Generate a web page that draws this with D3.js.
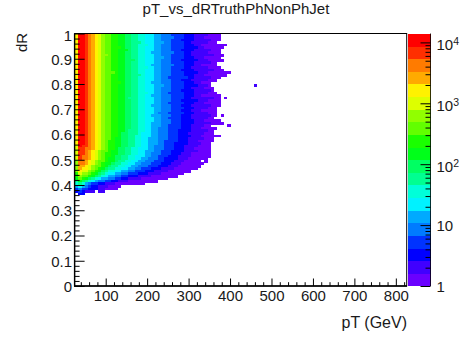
<!DOCTYPE html>
<html><head><meta charset="utf-8">
<script src="https://cdn.jsdelivr.net/npm/d3@7"></script>
<style>html,body{margin:0;padding:0;background:#fff}svg{display:block}text{font-family:"Liberation Sans",Arial,sans-serif;fill:#1a1a1a}</style>
</head><body><div id="c"></div>
<script>
const titleText = "pT_vs_dRTruthPhNonPhJet", xLabel = "pT (GeV)", yLabel = "dR";
const pTDomain = [25, 825], dRDomain = [0, 1], binWidth = 8, dRWidth = 0.01;
const pTMajor = [100,200,300,400,500,600,700,800];
const dRMajor = [0,0.1,0.2,0.3,0.4,0.5,0.6,0.7,0.8,0.9,1];
const countMax = 14000;
const zDecades = [1,10,100,1000,10000];
// palette hue per contour level, lowest count first
const levelHues = [265,255,240,228,211,200,183,171,154,143,126,114,97,86,68,57,40,29,11,0];
// for each dR row (first entry = row index): last bin (exclusive) reached by level 0,1,2... going inward
const rowEnds = [
[99,44,40,36,33,29,26,24,21,19,17,15,13,11,9,8,7,6,5,4,3],
[98,44,39,36,33,30,26,24,21,19,17,15,13,11,9,8,7,6,5,4,3],
[97,44,41,36,32,29,26,24,21,19,17,15,13,11,9,8,7,6,5,4,3],
[96,43,40,35,33,29,27,24,21,20,17,15,13,11,9,8,7,6,5,4,3],
[95,46,38,36,33,29,26,24,22,19,17,15,13,11,9,8,7,6,5,4,3],
[94,45,39,37,33,29,26,24,21,19,17,15,14,11,9,8,7,6,5,4,3],
[93,44,41,36,32,29,26,24,21,19,17,16,13,11,9,8,7,6,5,4,3],
[92,44,40,35,33,30,26,23,21,19,17,15,13,11,9,8,7,6,5,4,3],
[91,45,42,35,33,29,26,24,21,19,17,15,13,11,10,8,7,6,5,4,3],
[90,44,39,36,33,29,27,24,21,19,17,15,13,11,9,8,7,6,5,4,3],
[89,45,40,37,32,29,26,24,21,19,18,15,13,11,9,8,7,6,5,4,3],
[88,43,41,36,33,29,26,24,21,19,17,15,13,11,9,8,7,6,5,4,3],
[87,43,38,36,33,30,26,23,21,19,17,15,13,11,9,8,7,6,5,4,3],
[86,44,40,35,33,29,26,24,22,19,17,15,13,11,9,8,7,6,5,4,3],
[85,45,42,36,32,29,26,24,21,19,17,15,13,11,9,8,7,6,5,4,3],
[84,47,40,37,33,29,26,24,21,19,17,15,13,12,9,8,7,6,5,4,3],
[83,46,39,36,33,29,26,24,21,20,17,15,13,11,9,8,7,6,5,4,3],
[82,44,41,36,34,28,26,24,21,19,17,15,13,11,9,8,7,6,5,4,3],
[81,43,40,35,32,29,26,24,21,19,17,15,13,11,9,8,7,6,5,4,3],
[80,42,38,36,33,29,26,23,21,19,17,15,14,11,9,8,7,6,5,4,3],
[79,42,40,37,33,29,27,24,21,19,17,15,13,11,9,8,7,6,5,4,3],
[78,42,39,35,33,29,26,24,21,19,17,15,13,11,9,8,7,6,5,4,3],
[77,42,41,36,32,29,26,24,21,19,17,15,13,11,9,8,7,6,5,4,3],
[76,43,40,36,33,28,26,24,22,19,17,15,13,11,9,8,7,6,5,4,3],
[75,44,38,36,33,29,26,23,21,19,17,15,13,11,9,8,7,6,5,4,3],
[74,44,42,35,33,29,26,24,21,19,16,15,13,11,9,8,7,6,5,4,3],
[73,44,40,37,32,29,26,24,21,19,17,15,13,11,9,8,7,6,5,4,3],
[72,44,39,36,33,28,26,24,21,19,17,15,13,11,9,8,7,6,5,4,3],
[71,44,41,35,32,29,26,23,21,19,17,15,13,11,9,8,7,6,5,4,3],
[70,43,40,36,33,29,26,24,21,19,17,15,13,11,9,8,7,6,5,4,3],
[69,43,38,35,32,29,26,24,21,19,17,15,13,11,9,8,7,6,5,4,3],
[68,43,40,36,33,28,25,24,21,19,17,15,13,11,9,8,7,6,5,4,3],
[67,43,41,35,32,29,26,23,21,19,17,15,13,11,9,8,7,6,5,4,3],
[66,42,40,35,32,28,26,24,21,19,17,15,13,11,9,8,7,6,5,4,3],
[65,44,39,36,32,29,26,24,21,19,17,15,13,11,9,8,7,6,5,4,3],
[64,45,41,36,32,29,26,23,21,19,17,15,13,11,9,8,7,6,5,4,3],
[63,43,39,35,32,28,26,23,21,19,17,15,13,11,9,8,7,6,5,4,3],
[62,43,38,35,32,28,25,23,21,19,17,15,13,11,9,8,7,6,5,4,3],
[61,42,40,35,31,28,25,23,21,19,16,15,13,11,9,8,7,6,5,4,3],
[60,42,39,34,31,28,25,23,20,19,16,14,13,11,9,8,7,6,5,4,3],
[59,44,38,35,31,28,25,23,20,18,16,14,13,11,9,8,7,6,5,4,3],
[58,42,39,34,31,28,25,22,20,18,16,14,12,11,9,8,7,6,5,4,3],
[57,42,37,34,31,27,25,22,20,18,16,14,12,10,9,8,7,6,5,4,3],
[56,41,38,34,30,27,25,22,20,18,16,14,12,10,9,8,7,6,5,4,3],
[55,42,37,33,30,27,24,22,20,18,16,14,12,10,9,8,7,6,5,4,2],
[54,41,36,33,30,27,24,22,19,17,15,13,12,10,9,8,7,6,5,3],
[53,41,37,33,29,26,24,21,19,17,15,13,11,10,8,7,6,5,4,3],
[52,41,35,32,29,26,23,21,19,17,15,13,11,9,8,7,6,5,4,3],
[51,41,35,31,28,25,23,21,18,16,14,12,11,9,8,7,6,5,4,2],
[50,40,34,31,27,25,22,20,18,16,14,12,10,9,8,7,6,5,4,2],
[49,40,33,30,27,24,21,19,17,15,13,12,10,9,7,6,5,4,3],
[48,39,32,29,26,23,20,18,16,14,12,11,9,8,7,6,5,4,3],
[47,38,31,28,25,22,19,17,15,13,11,10,9,8,6,5,4,3],
[46,37,30,26,23,20,18,16,14,12,10,9,8,7,6,5,4,2],
[45,35,28,24,21,18,16,14,12,10,9,8,7,6,5,4,2],
[44,33,26,22,19,16,14,12,10,9,8,7,6,5,4,2],
[43,31,23,19,16,14,12,10,9,8,7,6,5,4,2],
[42,28,20,16,14,12,10,8,7,6,5,4,3,2],
[41,25,16,13,11,9,7,6,5,4,3,2],
[40,21,12,9,7,5,4,3,3,2],
[39,14,10,7,5,4,3,2],
[38,13,9,7,4,2],
[37,6,6,3,2],
[36,3,3,3]
];
// level of the first pT bin in each row range: [lowest row, level]
const firstBinLevels = [[56,15],[50,14],[45,13],[43,11],[42,10],[41,8],[40,7],[39,5],[38,3],[37,2]];
// lone filled bins: [bin, row, level]
const strayBins = [[54,79,1],[45,74,0],[44,67,0],[46,63,0],[7,37,1],[8,37,1]];
// empty bins inside the edge: [bin, row]
const holeBins = [[41,80],[41,79],[42,63],[41,63],[41,55],[38,49],[39,47]];

const W=463,H=338;
const x=d3.scaleLinear().domain(pTDomain).range([74.6,406.2]);
const y=d3.scaleLinear().domain(dRDomain).range([286,33.5]);
const svg=d3.select("#c").append("svg").attr("width",W).attr("height",H);
const color=l=>d3.hsl(levelHues[l],1,.5).formatRgb();
const holes=new Set(holeBins.map(d=>d[0]+"_"+d[1]));
const cells=[];
rowEnds.forEach(r=>{
  const row=r[0], ends=r.slice(1), fb=firstBinLevels.find(d=>row>=d[0]);
  // a row's inner levels may stick out past an outer one; the inner level wins
  for(let l=0;l<ends.length;l++){
    for(let b=1;b<ends[l];b++){
      const inner=ends.findIndex((e,i)=>i>l&&e>b);
      if(inner!==-1) continue;
      if(!holes.has(b+"_"+row)) cells.push({b,row,l});
    }
  }
  if(fb) cells.push({b:0,row,l:fb[1]});
});
strayBins.forEach(d=>cells.push({b:d[0],row:d[1],l:d[2]}));

// frame
svg.append("rect").attr("x",x.range()[0]).attr("y",33.5).attr("width",x.range()[1]-x.range()[0]+.5).attr("height",252.5)
  .attr("fill","none").attr("stroke","#000").attr("stroke-width",1);

svg.append("g").attr("shape-rendering","crispEdges").selectAll("rect").data(cells).join("rect")
  .attr("x",d=>x(pTDomain[0]+d.b*binWidth))
  .attr("width",d=>x(binWidth)-x(0)+.3)
  .attr("y",d=>y((d.row+1)*dRWidth))
  .attr("height",d=>y(0)-y(dRWidth)+.3)
  .attr("fill",d=>color(d.l));

// axes
const axG=svg.append("g");
const minorX=d3.range(40,821,20).filter(v=>!pTMajor.includes(v));
const minorY=d3.range(0,51).map(i=>i/50).filter(v=>!dRMajor.some(m=>Math.abs(m-v)<1e-6));
const xAxis=d3.axisBottom(x).tickValues(pTMajor).tickSize(-7.5).tickPadding(4).tickFormat(d3.format("d"));
const gx=axG.append("g").attr("transform","translate(0,286)").call(xAxis);
gx.select(".domain").remove();
gx.selectAll("line").attr("stroke","#000");
gx.selectAll("text").attr("font-size",15).attr("dy",0).attr("y",14.5).style("fill","#1a1a1a").attr("font-family","Liberation Sans");
const gxm=axG.append("g").attr("transform","translate(0,286)").call(d3.axisBottom(x).tickValues(minorX).tickSize(-3.8).tickFormat(""));
gxm.select(".domain").remove(); gxm.selectAll("line").attr("stroke","#000");

const yAxis=d3.axisLeft(y).tickValues(dRMajor).tickSize(-10).tickPadding(3).tickFormat(d=>d3.format("")(d));
const gy=axG.append("g").attr("transform","translate(74.6,0)").call(yAxis);
gy.select(".domain").remove();
gy.selectAll("line").attr("stroke","#000");
gy.selectAll("text").attr("font-size",15).attr("x",-2.6).attr("dy","0.35em").style("fill","#1a1a1a")
  .attr("font-family","Liberation Sans")
  .attr("transform",d=>d===1?"translate(0,2)":null);
const gym=axG.append("g").attr("transform","translate(74.6,0)").call(d3.axisLeft(y).tickValues(minorY).tickSize(-5).tickFormat(""));
gym.select(".domain").remove(); gym.selectAll("line").attr("stroke","#000");
axG.append("line").attr("x1",74.6).attr("x2",74.6).attr("y1",33.5).attr("y2",286.5).attr("stroke","#000").attr("stroke-width",1.4);
axG.append("line").attr("x1",74).attr("x2",407).attr("y1",286).attr("y2",286).attr("stroke","#000").attr("stroke-width",1.4);

// colour bar
const z=d3.scaleLog().domain([1,countMax]).range([286,33.5]);
const nLev=levelHues.length, step=(z.range()[0]-z.range()[1])/nLev;
svg.append("g").attr("shape-rendering","crispEdges").selectAll("rect").data(levelHues).join("rect")
  .attr("x",408).attr("width",22.5)
  .attr("y",(d,i)=>z.range()[0]-(i+1)*step).attr("height",step+.4)
  .attr("fill",(d,i)=>color(i));
const zMinor=[];zDecades.forEach(dec=>d3.range(2,10).forEach(m=>{if(dec*m<countMax)zMinor.push(dec*m)}));
const zg=svg.append("g").attr("transform","translate(430.5,0)");
zg.append("g").call(d3.axisRight(z).tickValues(zDecades).tickSize(-10).tickFormat("")).call(g=>g.select(".domain").remove()).selectAll("line").attr("stroke","#000");
zg.append("g").call(d3.axisRight(z).tickValues(zMinor).tickSize(-5).tickFormat("")).call(g=>g.select(".domain").remove()).selectAll("line").attr("stroke","#000");
zg.append("line").attr("y1",33.5).attr("y2",286).attr("stroke","#000").attr("stroke-width",.8);
const zl=svg.append("g").selectAll("text").data(zDecades).join("text")
  .attr("x",436.5).attr("font-size",15).attr("y",d=>z(d)+(d>=100?8:5.5));
zl.append("tspan").text(d=>d===1?"1":"10");
zl.filter(d=>d>=100).append("tspan").attr("dy",-5).attr("font-size",10.5).text(d=>Math.round(Math.log10(d)));

// titles
svg.append("text").attr("x",236).attr("y",14).attr("text-anchor","middle").attr("font-size",15).text(titleText);
svg.append("text").attr("x",407).attr("y",328).attr("text-anchor","end").attr("font-size",16).text(xLabel);
svg.append("text").attr("transform","translate(27,52) rotate(-90)").attr("font-size",15).text(yLabel);
</script></body></html>
